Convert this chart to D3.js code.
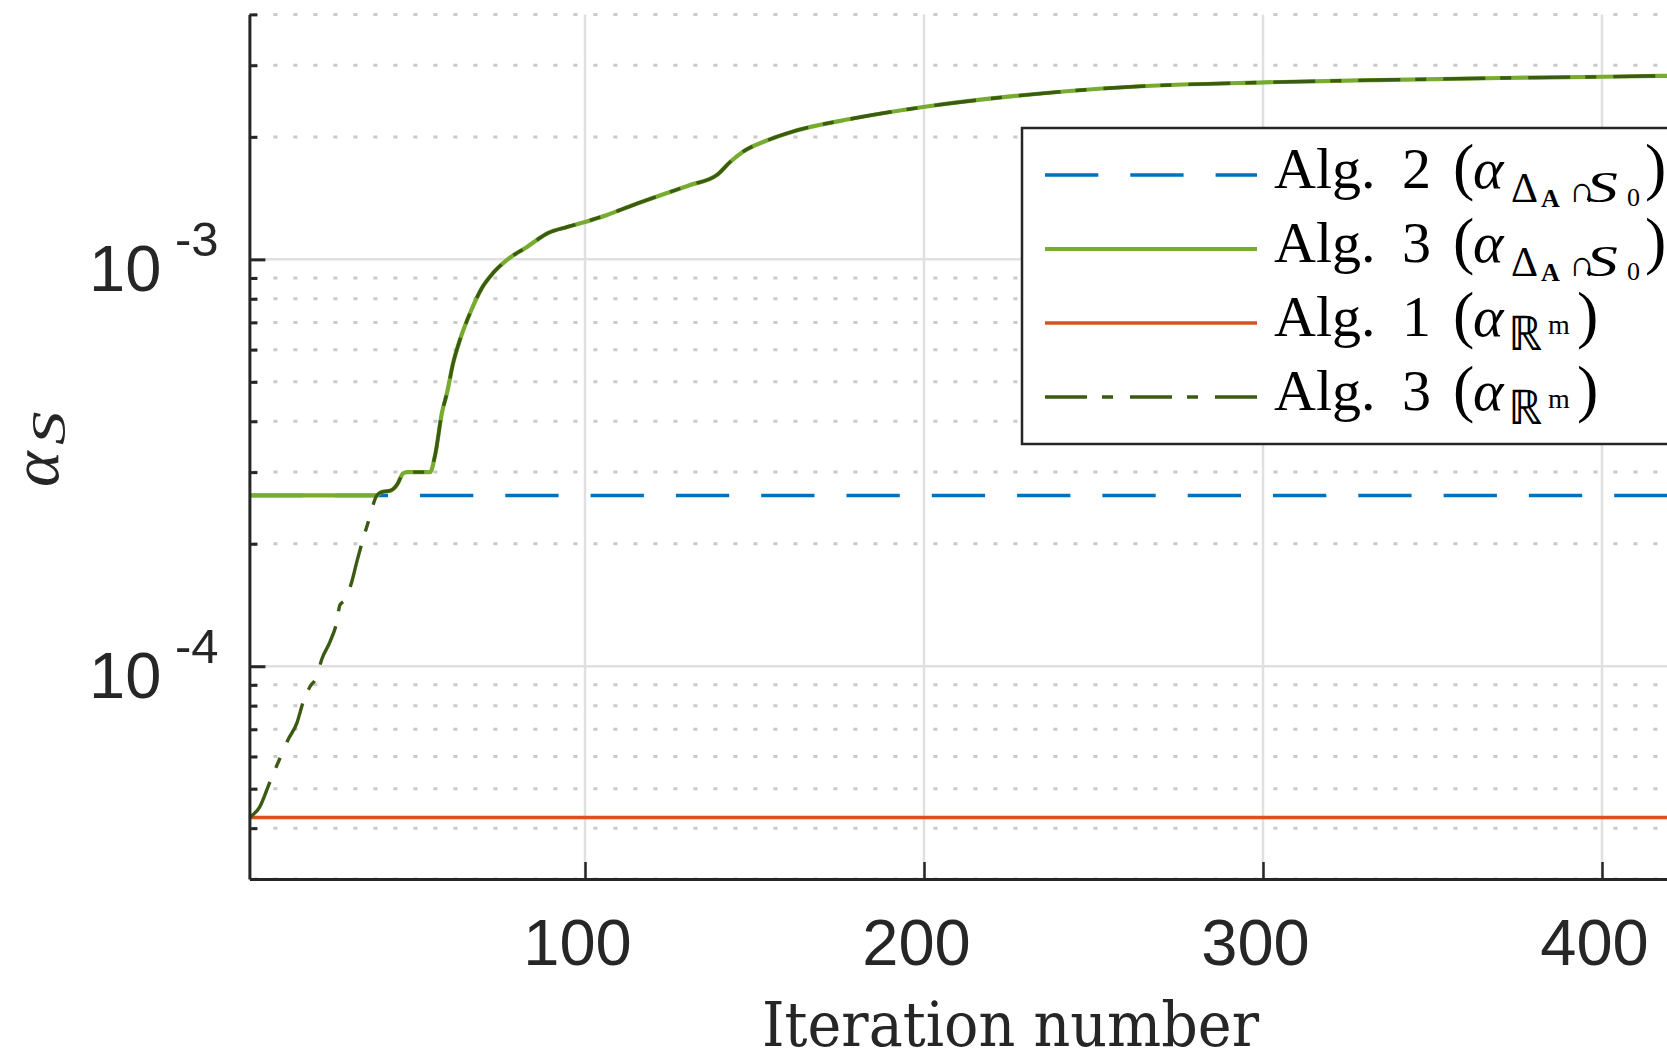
<!DOCTYPE html>
<html>
<head>
<meta charset="utf-8">
<title>alpha_S vs iteration number</title>
<script src="https://cdn.jsdelivr.net/npm/d3@7"></script>
<style>
  html, body { margin: 0; padding: 0; background: #ffffff; overflow: hidden; }
  svg { display: block; }
</style>
</head>
<body>
<div id="chart"></div>
<script>

// DATA

var xTickValues = [100, 200, 300, 400];
var yMajorValues = [1e-4, 1e-3];
var yTickExponents = ['-4', '-3'];
var yMinorValues = [3e-5, 4e-5, 5e-5, 6e-5, 7e-5, 8e-5, 9e-5,
                    2e-4, 3e-4, 4e-4, 5e-4, 6e-4, 7e-4, 8e-4, 9e-4,
                    2e-3, 3e-3, 4e-3];

// Alg. 2 (alpha on Delta_A n S_0) - constant
var alg2Iter  = [1, 420];
var alg2Alpha = [2.63e-4, 2.63e-4];

// Alg. 1 (alpha on R^m) - constant
var alg1Iter  = [1, 420];
var alg1Alpha = [4.25e-5, 4.25e-5];

// Alg. 3 (alpha on Delta_A n S_0)
var alg3SIter = [1, 38.6, 40.0, 42.5, 44.5, 46.4, 47.5, 54.3, 55.8, 57.8, 59.3, 61.1, 63.1, 66.1,
                 69.6, 72.9, 77.0, 82.9, 89.1, 94.7, 100, 106.5, 114.2, 124.2, 131.0, 138.9,
                 142.8, 146.6, 154.0, 161.2, 179.4, 200.3, 224.8, 261.4, 300.3, 333.9, 370.5,
                 400.4, 420];
var alg3SAlpha = [2.63e-4, 2.63e-4, 2.68e-4, 2.70e-4, 2.79e-4, 2.98e-4, 3.00e-4, 3.00e-4, 3.31e-4,
                  4.20e-4, 4.70e-4, 5.56e-4, 6.34e-4, 7.38e-4, 8.51e-4, 9.26e-4, 9.97e-4,
                  1.073e-3, 1.161e-3, 1.201e-3, 1.236e-3, 1.286e-3, 1.360e-3, 1.456e-3, 1.523e-3,
                  1.612e-3, 1.735e-3, 1.839e-3, 1.965e-3, 2.060e-3, 2.222e-3, 2.372e-3, 2.511e-3,
                  2.656e-3, 2.723e-3, 2.759e-3, 2.791e-3, 2.811e-3, 2.827e-3];

// Alg. 3 (alpha on R^m)
var alg3RIter = [1, 4.1, 7.1, 10.0, 12.4, 15.0, 16.9, 18.9, 20.9, 22.3, 24.8, 26.8, 27.7, 29.2,
                 31.2, 32.7, 34.6, 36.1, 38.6, 40.0, 42.5, 44.5, 46.4, 47.5, 54.3, 55.8, 57.8,
                 59.3, 61.1, 63.1, 66.1, 69.6, 72.9, 77.0, 82.9, 89.1, 94.7, 100, 106.5, 114.2,
                 124.2, 131.0, 138.9, 142.8, 146.6, 154.0, 161.2, 179.4, 200.3, 224.8, 261.4,
                 300.3, 333.9, 370.5, 400.4, 420];
var alg3RAlpha = [4.25e-5, 4.52e-5, 5.21e-5, 5.94e-5, 6.60e-5, 7.25e-5, 8.19e-5, 8.92e-5, 9.43e-5,
                  1.037e-4, 1.150e-4, 1.288e-4, 1.415e-4, 1.456e-4, 1.614e-4, 1.808e-4, 2.064e-4,
                  2.267e-4, 2.63e-4, 2.68e-4, 2.70e-4, 2.79e-4, 2.98e-4, 3.00e-4, 3.00e-4, 3.31e-4,
                  4.20e-4, 4.70e-4, 5.56e-4, 6.34e-4, 7.38e-4, 8.51e-4, 9.26e-4, 9.97e-4,
                  1.073e-3, 1.161e-3, 1.201e-3, 1.236e-3, 1.286e-3, 1.360e-3, 1.456e-3, 1.523e-3,
                  1.612e-3, 1.735e-3, 1.839e-3, 1.965e-3, 2.060e-3, 2.222e-3, 2.372e-3, 2.511e-3,
                  2.656e-3, 2.723e-3, 2.759e-3, 2.791e-3, 2.811e-3, 2.827e-3];

var legendNames = ['Alg. 2', 'Alg. 3', 'Alg. 1', 'Alg. 3'];

// LAYOUT

var W = 1667, H = 1054;
var axisColor = '#262626';
var sansFont = '"Liberation Sans", Arial, Helvetica, sans-serif';
var serifFont = '"Liberation Serif", "Times New Roman", serif';

var x = d3.scaleLinear().domain([1, 500]).range([249.4, 1941]);
var y = d3.scaleLog().domain([3e-5, 4e-3]).range([879, 14.4]);

function zip(xs, ys) { return xs.map(function(v, i) { return [v, ys[i]]; }); }

var series = [
  { pts: zip(alg2Iter, alg2Alpha),   color: '#0072bd', width: 3.5, dash: '53.3 32' },
  { pts: zip(alg3SIter, alg3SAlpha), color: '#77ac30', width: 4.2, dash: null },
  { pts: zip(alg1Iter, alg1Alpha),   color: '#d95319', width: 3.5, dash: null },
  { pts: zip(alg3RIter, alg3RAlpha), color: '#3b5a12', width: 3.4, dash: '42 15 11 17' }
];

var chart = d3.select('#chart')
  .append('svg:svg')
    .attr('width', W)
    .attr('height', H);

chart.append('svg:rect')
  .attr('width', W)
  .attr('height', H)
  .attr('fill', '#ffffff');

// GRID

chart.selectAll('line.minor-grid')
  .data(yMinorValues)
  .enter().append('svg:line')
    .attr('class', 'minor-grid')
    .attr('x1', x(1) + 4)
    .attr('x2', x.range()[1])
    .attr('y1', function(d) { return y(d); })
    .attr('y2', function(d) { return y(d); })
    .attr('stroke', '#c9c9c9')
    .attr('stroke-width', 3)
    .attr('stroke-dasharray', '4 16');

chart.selectAll('line.major-grid-y')
  .data(yMajorValues)
  .enter().append('svg:line')
    .attr('class', 'major-grid-y')
    .attr('x1', x(1))
    .attr('x2', x.range()[1])
    .attr('y1', function(d) { return y(d); })
    .attr('y2', function(d) { return y(d); })
    .attr('stroke', '#e0e0e0')
    .attr('stroke-width', 2.5);

chart.selectAll('line.major-grid-x')
  .data(xTickValues)
  .enter().append('svg:line')
    .attr('class', 'major-grid-x')
    .attr('x1', function(d) { return x(d); })
    .attr('x2', function(d) { return x(d); })
    .attr('y1', y.range()[0])
    .attr('y2', y.range()[1])
    .attr('stroke', '#e0e0e0')
    .attr('stroke-width', 2.5);

// LINES

var line = d3.line()
  .x(function(d) { return x(d[0]); })
  .y(function(d) { return y(d[1]); })
  .curve(d3.curveMonotoneX);

chart.selectAll('path.series')
  .data(series)
  .enter().append('svg:path')
    .attr('class', 'series')
    .attr('d', function(d) { return line(d.pts); })
    .attr('fill', 'none')
    .attr('stroke', function(d) { return d.color; })
    .attr('stroke-width', function(d) { return d.width; })
    .attr('stroke-dasharray', function(d) { return d.dash; })
    .attr('stroke-linejoin', 'round');

// AXES

var xAxis = chart.append('svg:g')
  .attr('transform', 'translate(0,' + y.range()[0] + ')')
  .call(d3.axisBottom(x)
    .tickValues(xTickValues)
    .tickSizeInner(-17)
    .tickSizeOuter(0)
    .tickFormat(d3.format('d')));

xAxis.select('.domain').attr('stroke', axisColor).attr('stroke-width', 3);
xAxis.selectAll('.tick line').attr('stroke', axisColor).attr('stroke-width', 2.5);
xAxis.selectAll('.tick text')
  .attr('x', -8)
  .attr('y', 86)
  .attr('dy', 0)
  .attr('fill', axisColor)
  .attr('font-size', 65)
  .attr('font-family', sansFont);

var yAxis = chart.append('svg:g')
  .attr('transform', 'translate(' + x(1) + ',0)')
  .call(d3.axisLeft(y)
    .tickValues(yMajorValues.concat(yMinorValues.slice(1)))
    .tickSizeInner(-8)
    .tickSizeOuter(0)
    .tickFormat(''));

yAxis.select('.domain').attr('stroke', axisColor).attr('stroke-width', 3);
yAxis.selectAll('.tick line')
  .attr('stroke', axisColor)
  .attr('stroke-width', 3)
  .attr('x2', function(d) { return yMajorValues.indexOf(d) >= 0 ? 16 : 8; });

var yLabels = chart.selectAll('text.ytick')
  .data(yMajorValues)
  .enter().append('svg:text')
    .attr('class', 'ytick')
    .attr('fill', axisColor)
    .attr('font-family', sansFont);

yLabels.append('svg:tspan')
  .attr('x', 89)
  .attr('y', function(d) { return y(d) + 32; })
  .attr('font-size', 65)
  .text('10');

yLabels.append('svg:tspan')
  .attr('x', 175)
  .attr('y', function(d) { return y(d) - 3; })
  .attr('font-size', 49)
  .text(function(d, i) { return yTickExponents[i]; });

// AXIS LABELS

chart.append('svg:text')
  .attr('x', 1010.5)
  .attr('y', 1046)
  .attr('text-anchor', 'middle')
  .attr('font-family', '"DejaVu Serif", serif')
  .attr('font-size', 62)
  .attr('textLength', 497)
  .attr('lengthAdjust', 'spacingAndGlyphs')
  .attr('fill', axisColor)
  .text('Iteration number');

var yTitle = chart.append('svg:g')
  .attr('transform', 'translate(58,487) rotate(-90)')
  .attr('fill', axisColor);

yTitle.append('svg:text')
  .attr('font-family', serifFont)
  .attr('font-size', 68)
  .attr('font-style', 'italic')
  .text('α');

yTitle.append('svg:text')
  .attr('transform', 'translate(42,7) scale(1.4,1)')
  .attr('font-family', serifFont)
  .attr('font-size', 48)
  .attr('font-style', 'italic')
  .text('S');

// LEGEND

var legend = chart.append('svg:g').attr('class', 'legend');

legend.append('svg:rect')
  .attr('x', 1022)
  .attr('y', 128)
  .attr('width', 800)
  .attr('height', 316)
  .attr('fill', '#ffffff')
  .attr('stroke', axisColor)
  .attr('stroke-width', 2.5);

var rowY = function(i) { return 175 + i * 74; };

legend.selectAll('line.legend-line')
  .data(series)
  .enter().append('svg:line')
    .attr('class', 'legend-line')
    .attr('x1', 1045)
    .attr('x2', 1257)
    .attr('y1', function(d, i) { return rowY(i); })
    .attr('y2', function(d, i) { return rowY(i); })
    .attr('stroke', function(d) { return d.color; })
    .attr('stroke-width', function(d) { return d.width; })
    .attr('stroke-dasharray', function(d) { return d.dash; });

function pieces(i) {
  var p = [
    { t: 'Alg.', x: 1274, size: 58 },
    { t: legendNames[i].split(' ')[1], x: 1402, size: 58 },
    { t: '(', x: 1453, size: 64 },
    { t: 'α', x: 1473, size: 58, italic: true }
  ];
  if (i < 2) {
    p.push({ t: 'Δ', x: 1511, dy: 14, size: 42 });
    p.push({ t: 'A', x: 1541, dy: 19, size: 26, bold: true });
    p.push({ t: '∩', x: 1569, dy: 14, size: 36 });
    p.push({ t: 'S', x: 1586, dy: 14, size: 44, italic: true, sx: 1.45 });
    p.push({ t: '0', x: 1627, dy: 18, size: 26 });
    p.push({ t: ')', x: 1645, size: 64 });
  } else {
    p.push({ t: 'ℝ', x: 1508, dy: 14, size: 48 });
    p.push({ t: 'm', x: 1548, dy: -2, size: 28 });
    p.push({ t: ')', x: 1577, size: 64 });
  }
  return p;
}

// each glyph group is its own text so the subscripts can sit freely
legendNames.forEach(function(name, i) {
  var base = rowY(i) + 13;
  legend.selectAll('text.legend-row-' + i)
    .data(pieces(i))
    .enter().append('svg:text')
      .attr('class', 'legend-row-' + i)
      .attr('transform', function(p) {
        return 'translate(' + p.x + ',' + (base + (p.dy || 0)) + ')' + (p.sx ? ' scale(' + p.sx + ',1)' : '');
      })
      .attr('font-family', serifFont)
      .attr('font-size', function(p) { return p.size; })
      .attr('font-style', function(p) { return p.italic ? 'italic' : null; })
      .attr('font-weight', function(p) { return p.bold ? 'bold' : null; })
      .attr('fill', '#000000')
      .text(function(p) { return p.t; });
});

</script>
</body>
</html>
